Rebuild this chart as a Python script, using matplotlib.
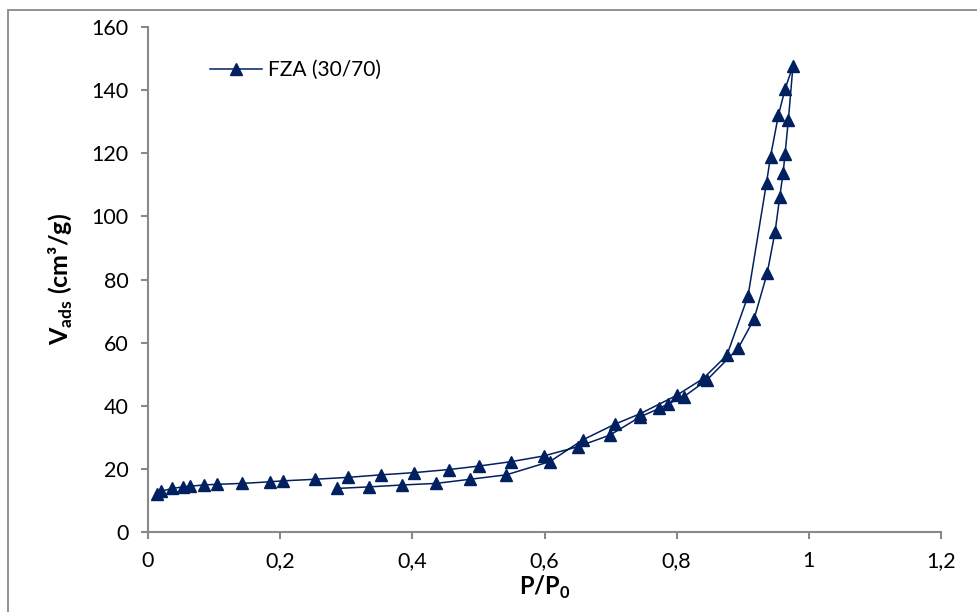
import matplotlib
matplotlib.use("Agg")
import matplotlib.pyplot as plt
from matplotlib.patches import Rectangle
from matplotlib.ticker import FuncFormatter

plt.rcParams['font.family'] = ['Lato', 'DejaVu Sans']
plt.rcParams['mathtext.fontset'] = 'custom'
plt.rcParams['mathtext.rm'] = 'Lato'
plt.rcParams['mathtext.bf'] = 'Lato:bold'

# adsorption branch then desorption branch
p_ads = [0.013, 0.019, 0.037, 0.053, 0.064, 0.084, 0.104, 0.143, 0.184, 0.204,
         0.252, 0.302, 0.352, 0.402, 0.456, 0.501, 0.550, 0.599, 0.650, 0.699,
         0.745, 0.774, 0.787, 0.811, 0.846, 0.893, 0.917, 0.937, 0.949, 0.956,
         0.961, 0.964, 0.969, 0.976]
v_ads = [11.9, 12.9, 13.8, 14.3, 14.5, 14.9, 15.1, 15.4, 15.9, 16.2,
         16.7, 17.3, 18.1, 18.8, 19.8, 20.9, 22.3, 24.1, 27.0, 30.7,
         36.5, 39.2, 40.6, 42.9, 48.2, 58.2, 67.4, 82.0, 95.2, 106.2,
         113.7, 119.7, 130.5, 147.7]

p_des = [0.964, 0.954, 0.942, 0.936, 0.908, 0.876, 0.840, 0.800, 0.745, 0.707,
         0.658, 0.608, 0.542, 0.487, 0.436, 0.385, 0.335, 0.286]
v_des = [140.3, 132.1, 118.9, 110.7, 74.8, 56.0, 48.6, 43.3, 37.5, 34.2,
         29.2, 22.3, 18.1, 16.7, 15.4, 14.9, 14.3, 13.8]

label = "FZA (30/70)"
navy = "#002060"
grey = "#898989"

x = p_ads + p_des
y = v_ads + v_des

fig = plt.figure(figsize=(9.77, 6.12), dpi=100)
ax = fig.add_axes([148 / 977, 1 - 532 / 612, 793 / 977, 505 / 612])

# outer chart border
fig.patches.append(Rectangle((8 / 977, -0.1), 1.2, 1.1 - 10 / 612,
                             transform=fig.transFigure, fill=False,
                             edgecolor=grey, linewidth=1.3))

ax.plot(x, y, color=navy, linewidth=1.1, marker='^', markersize=9,
        markerfacecolor=navy, markeredgecolor=navy, label=label)

ax.set_xlim(0, 1.2)
ax.set_ylim(0, 160)
ax.set_xticks([0, 0.2, 0.4, 0.6, 0.8, 1.0, 1.2])
ax.set_yticks(range(0, 161, 20))
ax.xaxis.set_major_formatter(FuncFormatter(lambda v, pos: ('%g' % round(v, 1)).replace('.', ',')))

for side in ['top', 'right']:
    ax.spines[side].set_visible(False)
for side in ['left', 'bottom']:
    ax.spines[side].set_color(grey)
    ax.spines[side].set_linewidth(1.5)
ax.tick_params(direction='out', length=5, width=1.5, color=grey,
               labelsize=15.5, pad=9, labelcolor='black')

ax.set_xlabel(r'P/P$_\mathbf{0}$', fontsize=17, fontweight='bold', labelpad=2)
ax.set_ylabel(r'V$_\mathbf{ads}$ (cm³/g)', fontsize=18, fontweight='bold', labelpad=12)

ax.legend(loc='center left', bbox_to_anchor=(0.078, 0.915), frameon=False,
          borderaxespad=0, borderpad=0, handlelength=2.5, handletextpad=0.3,
          fontsize=15)

fig.savefig("out.png", dpi=100)
